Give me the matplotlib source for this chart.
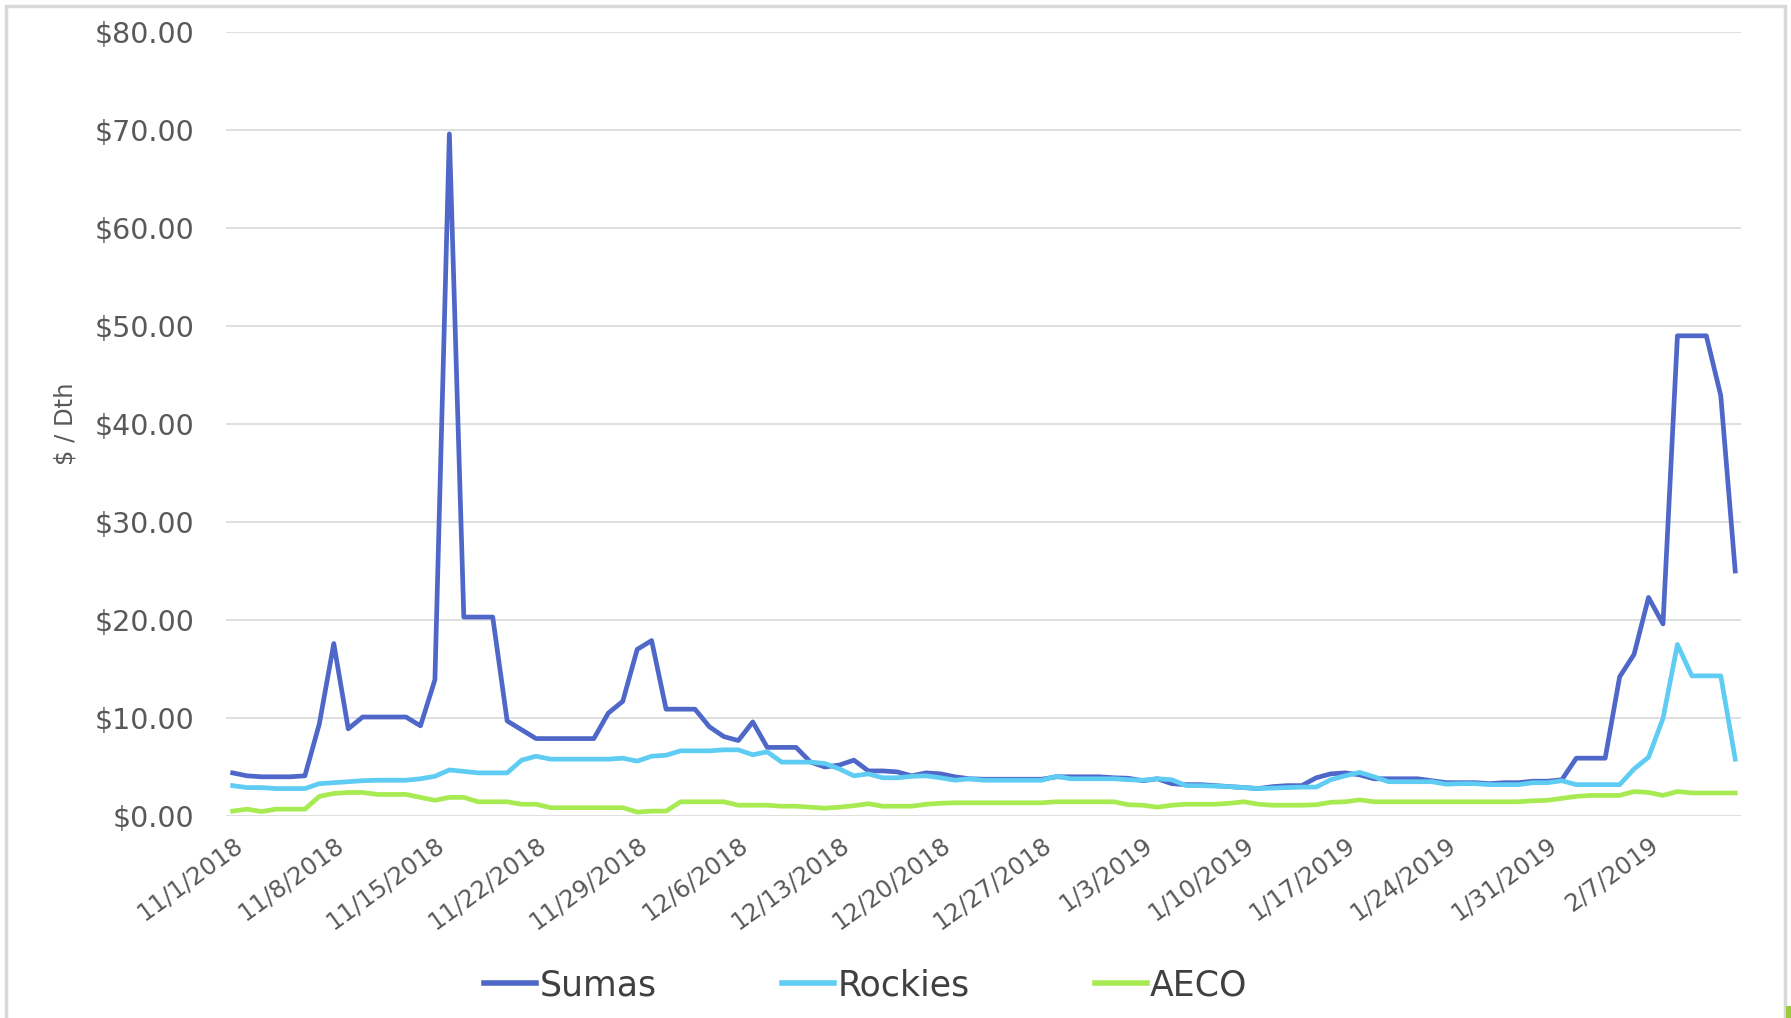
import pandas as pd
import matplotlib.pyplot as plt
import matplotlib.dates as mdates
from matplotlib.patches import Rectangle

# daily hub prices, $/Dth, 11/1/2018 - 2/13/2019
dates = pd.date_range('2018-11-01', periods=105, freq='D')

sumas = [4.4, 4.1, 4.0, 4.0, 4.0, 4.1, 9.4, 17.6, 8.9, 10.1,
         10.1, 10.1, 10.1, 9.2, 13.9, 69.6, 20.3, 20.3, 20.3, 9.7,
         8.8, 7.9, 7.9, 7.9, 7.9, 7.9, 10.5, 11.7, 17.0, 17.9,
         10.9, 10.9, 10.9, 9.1, 8.1, 7.7, 9.6, 7.0, 7.0, 7.0,
         5.5, 5.0, 5.2, 5.7, 4.6, 4.6, 4.5, 4.1, 4.4, 4.3,
         4.0, 3.8, 3.75, 3.75, 3.75, 3.75, 3.75, 4.0, 4.0, 4.0,
         4.0, 3.9, 3.85, 3.6, 3.8, 3.3, 3.2, 3.2, 3.1, 3.0,
         2.9, 2.8, 3.0, 3.1, 3.1, 3.9, 4.3, 4.4, 4.2, 3.8,
         3.8, 3.8, 3.8, 3.6, 3.4, 3.4, 3.4, 3.3, 3.4, 3.4,
         3.55, 3.55, 3.7, 5.9, 5.9, 5.9, 14.2, 16.5, 22.3, 19.6,
         49.0, 49.0, 49.0, 42.9, 25.0]

rockies = [3.1, 2.9, 2.9, 2.8, 2.8, 2.8, 3.3, 3.4, 3.5, 3.6,
           3.65, 3.65, 3.65, 3.8, 4.05, 4.7, 4.55, 4.4, 4.4, 4.4,
           5.7, 6.1, 5.8, 5.8, 5.8, 5.8, 5.8, 5.9, 5.6, 6.1,
           6.2, 6.65, 6.65, 6.65, 6.75, 6.75, 6.25, 6.55, 5.5, 5.5,
           5.5, 5.35, 4.8, 4.1, 4.3, 3.9, 3.9, 4.05, 4.1, 3.9,
           3.65, 3.8, 3.65, 3.65, 3.65, 3.65, 3.65, 4.05, 3.8, 3.8,
           3.8, 3.8, 3.7, 3.65, 3.8, 3.7, 3.1, 3.1, 3.05, 3.0,
           2.9, 2.8, 2.85, 2.9, 2.95, 2.95, 3.7, 4.1, 4.45, 4.0,
           3.5, 3.5, 3.5, 3.5, 3.25, 3.3, 3.3, 3.2, 3.2, 3.2,
           3.4, 3.4, 3.6, 3.2, 3.2, 3.2, 3.2, 4.8, 6.0, 9.95,
           17.5, 14.3, 14.3, 14.3, 5.8]

aeco = [0.5, 0.7, 0.45, 0.7, 0.7, 0.7, 2.0, 2.3, 2.4, 2.4,
        2.2, 2.2, 2.2, 1.9, 1.6, 1.9, 1.9, 1.45, 1.45, 1.45,
        1.2, 1.2, 0.85, 0.85, 0.85, 0.85, 0.85, 0.85, 0.4, 0.5,
        0.5, 1.45, 1.45, 1.45, 1.45, 1.1, 1.1, 1.1, 1.0, 1.0,
        0.9, 0.8, 0.9, 1.05, 1.25, 1.0, 1.0, 1.0, 1.2, 1.3,
        1.35, 1.35, 1.35, 1.35, 1.35, 1.35, 1.35, 1.45, 1.45, 1.45,
        1.45, 1.45, 1.15, 1.1, 0.9, 1.1, 1.2, 1.2, 1.2, 1.3,
        1.45, 1.2, 1.1, 1.1, 1.1, 1.15, 1.4, 1.45, 1.65, 1.45,
        1.45, 1.45, 1.45, 1.45, 1.45, 1.45, 1.45, 1.45, 1.45, 1.45,
        1.55, 1.6, 1.8, 2.0, 2.1, 2.1, 2.1, 2.5, 2.4, 2.1,
        2.5, 2.35, 2.35, 2.35, 2.35]

series = [('Sumas', sumas, '#4E67C8'),
          ('Rockies', rockies, '#5ECCF3'),
          ('AECO', aeco, '#A7EA52')]

tick_dates = pd.date_range('2018-11-01', '2019-02-07', freq='7D')
tick_labels = [f'{d.month}/{d.day}/{d.year}' for d in tick_dates]
y_ticks = list(range(0, 90, 10))

plt.rcParams['font.family'] = ['DejaVu Sans']

W, H = 1791, 1018
fig = plt.figure(figsize=(W / 100, H / 100), dpi=100)
ax = fig.add_axes([226 / W, 1 - 816 / H, (1741 - 226) / W, (816 - 32) / H])

for name, vals, col in series:
    ax.plot(dates, vals, color=col, lw=3.4, label=name)

x0 = mdates.date2num(dates[0])
ax.set_xlim(x0 - 0.46, x0 + 104.4)
ax.set_ylim(0, 80)

ax.set_yticks(y_ticks)
ax.set_yticklabels([f'${v:.2f}' for v in y_ticks])
ax.set_xticks(mdates.date2num(tick_dates))
ax.set_xticklabels(tick_labels, rotation=36, ha='right', va='top',
                   rotation_mode='anchor')
ax.tick_params(axis='both', length=0, colors='#595959')
ax.tick_params(axis='y', pad=23, labelsize=20.5)
ax.tick_params(axis='x', pad=12, labelsize=17.5)

ax.grid(axis='y', color='#D9D9D9', lw=1.2)
ax.set_axisbelow(True)
for s in ax.spines.values():
    s.set_visible(False)

fig.text(66 / W, 1 - 424 / H, '$ / Dth', rotation=90, ha='center',
         va='center', fontsize=17.5, color='#595959')

leg = fig.legend(loc='center', bbox_to_anchor=(0.4835, 1 - 985 / H), ncol=3,
                 frameon=False, fontsize=25, handlelength=1.5,
                 handletextpad=0.1, columnspacing=3.6)
for t in leg.get_texts():
    t.set_color('#404040')
for h in leg.get_lines():
    h.set_linewidth(4)

# chart frame
fig.patches.append(Rectangle((6, -20), 1779, 1032, transform=None,
                             fill=False, edgecolor='#D9D9D9', lw=2.5))
fig.patches.append(Rectangle((1786, 0), 5, 12, transform=None,
                             color='#9CCB3B', lw=0))

fig.savefig('out.png', dpi=100)
